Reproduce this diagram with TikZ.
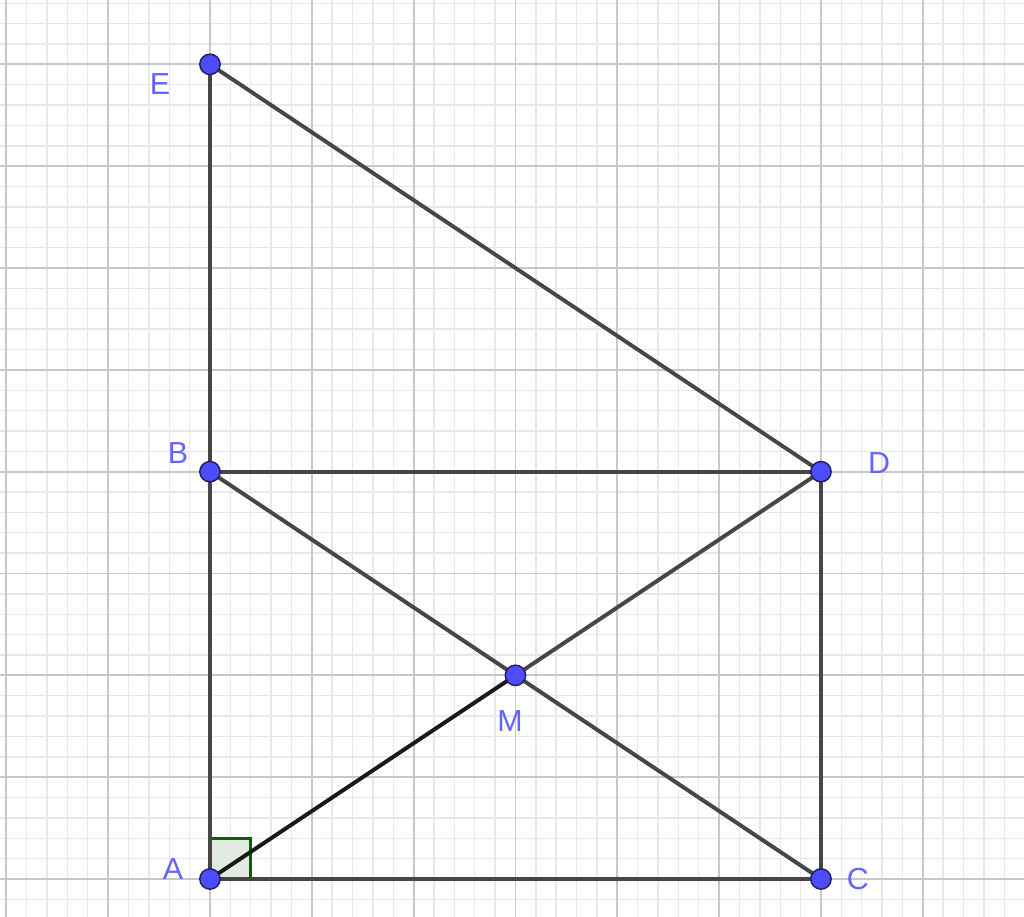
\documentclass[tikz,border=0pt]{standalone}
\usepackage{fontspec}
\setmainfont{Liberation Sans}
\definecolor{minorgrid}{RGB}{232,232,232}
\definecolor{majorgrid}{RGB}{200,200,200}
\definecolor{segcol}{RGB}{70,70,70}
\definecolor{ptfill}{RGB}{77,77,255}
\definecolor{ptdraw}{RGB}{30,30,90}
\definecolor{lblcol}{RGB}{100,100,255}
\definecolor{angdraw}{RGB}{0,100,0}
\definecolor{angfill}{RGB}{225,235,225}
\tikzset{
  seg/.style={segcol, line width=1.1pt},
  darkseg/.style={black!90, line width=1.1pt},
  pt/.style={circle, fill=ptfill, draw=ptdraw, line width=0.4pt, inner sep=0pt, minimum size=0.2cm},
  lbl/.style={text=lblcol, font=\fontsize{8.5}{10}\selectfont, inner sep=0pt}
}
\begin{document}
\begin{tikzpicture}
\useasboundingbox (-2.062,-0.373) rectangle (7.994,8.632);
\clip (-2.062,-0.373) rectangle (7.994,8.632);
\fill[white] (-2.062,-0.373) rectangle (7.994,8.632);
\draw[minorgrid, line width=0.4pt, step=0.2] (-2.2,-0.4) grid (8.2,8.8);
\draw[majorgrid, line width=0.5pt, step=1] (-2.2,-0.4) grid (8.2,8.8);
\coordinate (A) at (0,0);
\coordinate (C) at (6,0);
\coordinate (B) at (0,4);
\coordinate (D) at (6,4);
\coordinate (E) at (0,8);
\coordinate (M) at (3,2);
% right angle marker
\draw[angdraw, fill=angfill, line width=0.8pt] (A) rectangle (0.4,0.4);
\draw[seg] (E) -- (B);
\draw[seg] (B) -- (A);
\draw[seg] (A) -- (C);
\draw[seg] (C) -- (D);
\draw[seg] (D) -- (B);
\draw[seg] (E) -- (D);
\draw[seg] (B) -- (C);
\draw[seg] (M) -- (D);
\draw[darkseg] (A) -- (M);
\node[pt] (pA) at (A) {};
\node[pt] (pB) at (B) {};
\node[pt] (pC) at (C) {};
\node[pt] (pD) at (D) {};
\node[pt] (pE) at (E) {};
\node[pt] (pM) at (M) {};
\node[lbl] (lE) at (-0.49,7.807) {E};
\node[lbl] (lB) at (-0.314,4.183) {B};
\node[lbl] (lD) at (6.57,4.085) {D};
\node[lbl] (lM) at (2.946,1.552) {M};
\node[lbl] (lA) at (-0.363,0.098) {A};
\node[lbl] (lC) at (6.363,0) {C};
\end{tikzpicture}
\end{document}
